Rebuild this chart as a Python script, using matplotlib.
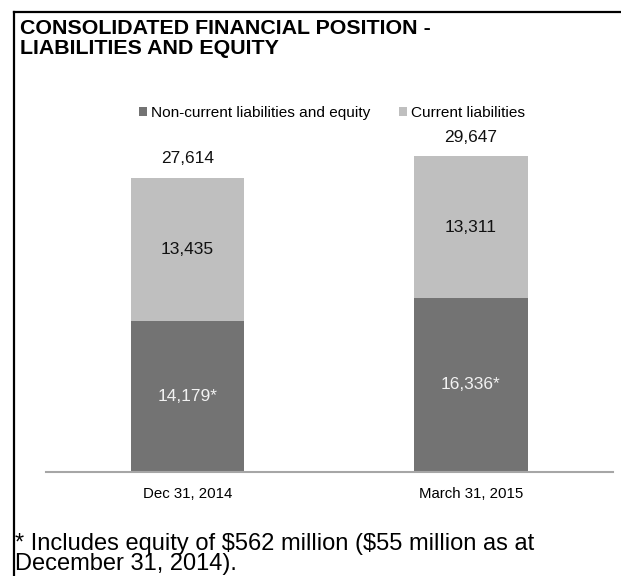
import matplotlib.pyplot as plt
from matplotlib.lines import Line2D
import numpy as np

plt.rcParams['font.family'] = ['Liberation Sans', 'DejaVu Sans']

dates = ['Dec 31, 2014', 'March 31, 2015']
non_current = [14179, 16336]
current = [13435, 13311]
totals = [27614, 29647]
noncurrent_labels = ['14,179*', '16,336*']

dark = '#737373'
light = '#bfbfbf'

fig = plt.figure(figsize=(6.21, 5.76), dpi=100)
ax = fig.add_axes([0.0736, 0.1811, 0.913, 0.591])

x = np.arange(len(dates))
b1 = ax.bar(x, non_current, width=0.4, color=dark, label='Non-current liabilities and equity')
b2 = ax.bar(x, current, width=0.4, bottom=non_current, color=light, label='Current liabilities')

for i in range(len(dates)):
    ax.text(x[i], non_current[i] / 2, noncurrent_labels[i], ha='center', va='center',
            fontsize=12.5, color='#f2f2f2')
    ax.text(x[i], non_current[i] + current[i] / 2, f'{current[i]:,}', ha='center', va='center',
            fontsize=12.5, color='#111111')
    ax.text(x[i], totals[i] + 1800, f'{totals[i]:,}', ha='center', va='center',
            fontsize=12.5, color='#111111')

ax.set_xlim(-0.5, 1.5)
ax.set_ylim(0, 32000)
ax.set_xticks(x)
ax.set_xticklabels(dates, fontsize=10.8)
ax.tick_params(axis='x', length=0, pad=11)
ax.set_yticks([])
for s in ['top', 'right', 'left']:
    ax.spines[s].set_visible(False)
ax.spines['bottom'].set_color('#a6a6a6')
ax.spines['bottom'].set_linewidth(1.5)

fig.legend(handles=[b1, b2], loc='center', bbox_to_anchor=(332 / 621, 1 - 113 / 576),
           ncol=2, frameon=False, fontsize=11.1, handlelength=0.55, handleheight=0.55,
           handletextpad=0.25, columnspacing=1.85, borderpad=0)

fig.text(20.5 / 621, 1 - 18.5 / 576, 'CONSOLIDATED FINANCIAL POSITION -\nLIABILITIES AND EQUITY',
         ha='left', va='top', fontsize=15.4, fontweight='bold', linespacing=1.1)

fig.text(15 / 621, 1 - 575 / 576,
         '* Includes equity of \\$562 million (\\$55 million as at\nDecember 31, 2014).',
         ha='left', va='bottom', fontsize=17, linespacing=0.88)

# frame lines along the top and left edge
fig.add_artist(Line2D([13.5 / 621, 1], [1 - 11.5 / 576] * 2, color='black', lw=1.6,
                      transform=fig.transFigure))
fig.add_artist(Line2D([13.5 / 621] * 2, [0, 1 - 11.5 / 576], color='black', lw=1.6,
                      transform=fig.transFigure))

fig.savefig('out.png', dpi=100)
